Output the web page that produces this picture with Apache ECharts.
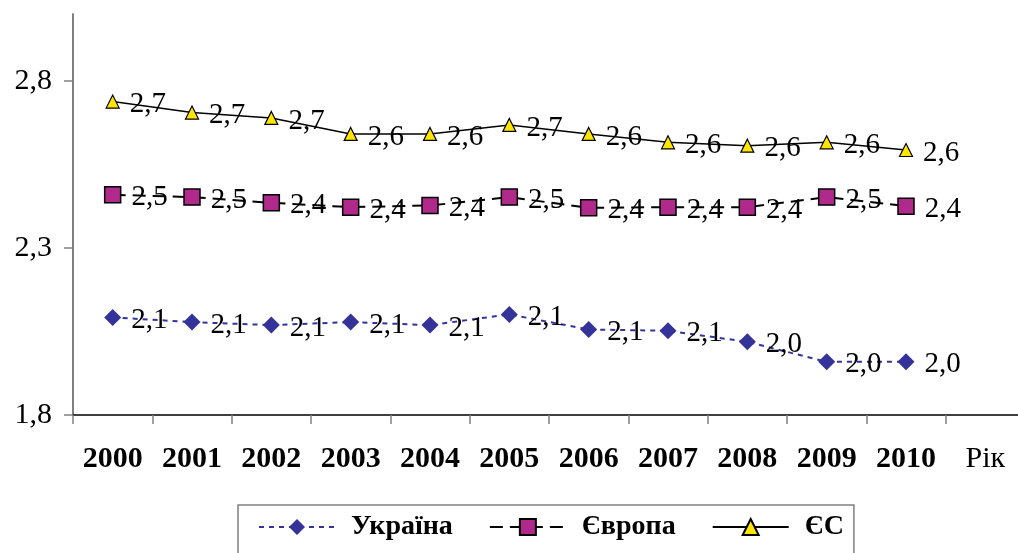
<!DOCTYPE html>
<html>
<head>
<meta charset="utf-8">
<script src="https://cdn.jsdelivr.net/npm/echarts@6/dist/echarts.min.js"></script>
<style>
  html, body { margin: 0; padding: 0; background: #fff; }
  #chart { width: 1018px; height: 553px; }
</style>
</head>
<body>
<div id="chart"></div>
<script>
const years = ['2000', '2001', '2002', '2003', '2004', '2005', '2006', '2007', '2008', '2009', '2010']
const axisTail = 'Рік'
const yTicks = [1.8, 2.3, 2.8]

const ukraine = [2.092, 2.078, 2.069, 2.078, 2.069, 2.101, 2.056, 2.052, 2.019, 1.959, 1.959]
const europe = [2.459, 2.452, 2.435, 2.422, 2.427, 2.452, 2.420, 2.422, 2.422, 2.452, 2.425]
const eu = [2.738, 2.705, 2.689, 2.641, 2.641, 2.668, 2.641, 2.616, 2.606, 2.616, 2.593]

const serif = 'Liberation Serif'
const comma = v => Number(v).toFixed(1).replace('.', ',')

const chart = echarts.init(document.getElementById('chart'))

// labels sit to the right of each point, a bit lower
const dataLabel = {
  show: true,
  position: 'right',
  distance: 10,
  offset: [0, 3],
  fontFamily: serif,
  fontSize: 29,
  color: '#000',
  formatter: p => comma(p.value)
}

chart.setOption({
  animation: false,
  // last category ("Рік") runs past the right edge, like the original
  grid: { left: 73, top: 14, width: 952, bottom: 138, outerBoundsMode: 'none', containLabel: false },
  xAxis: {
    type: 'category',
    boundaryGap: true,
    data: years.concat([{ value: axisTail, textStyle: { fontWeight: 'normal' } }]),
    axisLine: { lineStyle: { color: '#000', width: 1.5 } },
    axisTick: { show: true, length: 9, lineStyle: { color: '#808080', width: 1.5 } },
    axisLabel: {
      interval: 0,
      margin: 29,
      fontFamily: serif,
      fontSize: 30,
      fontWeight: 'bold',
      color: '#000'
    }
  },
  yAxis: {
    type: 'value',
    min: 1.8,
    max: 3.0,
    splitLine: { show: false },
    axisLine: { show: true, lineStyle: { color: '#808080', width: 2 } },
    axisTick: { show: true, length: 9, customValues: yTicks, lineStyle: { color: '#808080', width: 1.5 } },
    axisLabel: {
      customValues: yTicks,
      margin: 21,
      fontFamily: serif,
      fontSize: 30,
      color: '#000',
      formatter: v => comma(v)
    }
  },
  legend: {
    left: 238,
    top: 505,
    itemWidth: 76,
    itemHeight: 20,
    itemGap: 36,
    padding: [8, 10, 30, 20],
    borderColor: '#808080',
    borderWidth: 1.5,
    textStyle: { fontFamily: serif, fontSize: 28, fontWeight: 'bold', color: '#000', padding: [0, 0, 0, 11] },
    data: ['Україна', 'Європа', 'ЄС']
  },
  series: [
    {
      name: 'Україна',
      type: 'line',
      data: ukraine,
      symbol: 'diamond',
      symbolSize: 17,
      itemStyle: { color: '#333399' },
      lineStyle: { color: '#333399', width: 2, type: [5, 5] },
      label: dataLabel
    },
    {
      name: 'Європа',
      type: 'line',
      data: europe,
      symbol: 'rect',
      symbolSize: 16,
      itemStyle: { color: '#B02A8C', borderColor: '#000', borderWidth: 1.5 },
      lineStyle: { color: '#000', width: 2, type: [13, 7] },
      label: dataLabel
    },
    {
      name: 'ЄС',
      type: 'line',
      data: eu,
      symbol: 'triangle',
      symbolSize: 13,
      itemStyle: { color: '#FFE500', borderColor: '#000', borderWidth: 1.2 },
      lineStyle: { color: '#000', width: 1.5 },
      label: dataLabel
    }
  ]
})
</script>
</body>
</html>
